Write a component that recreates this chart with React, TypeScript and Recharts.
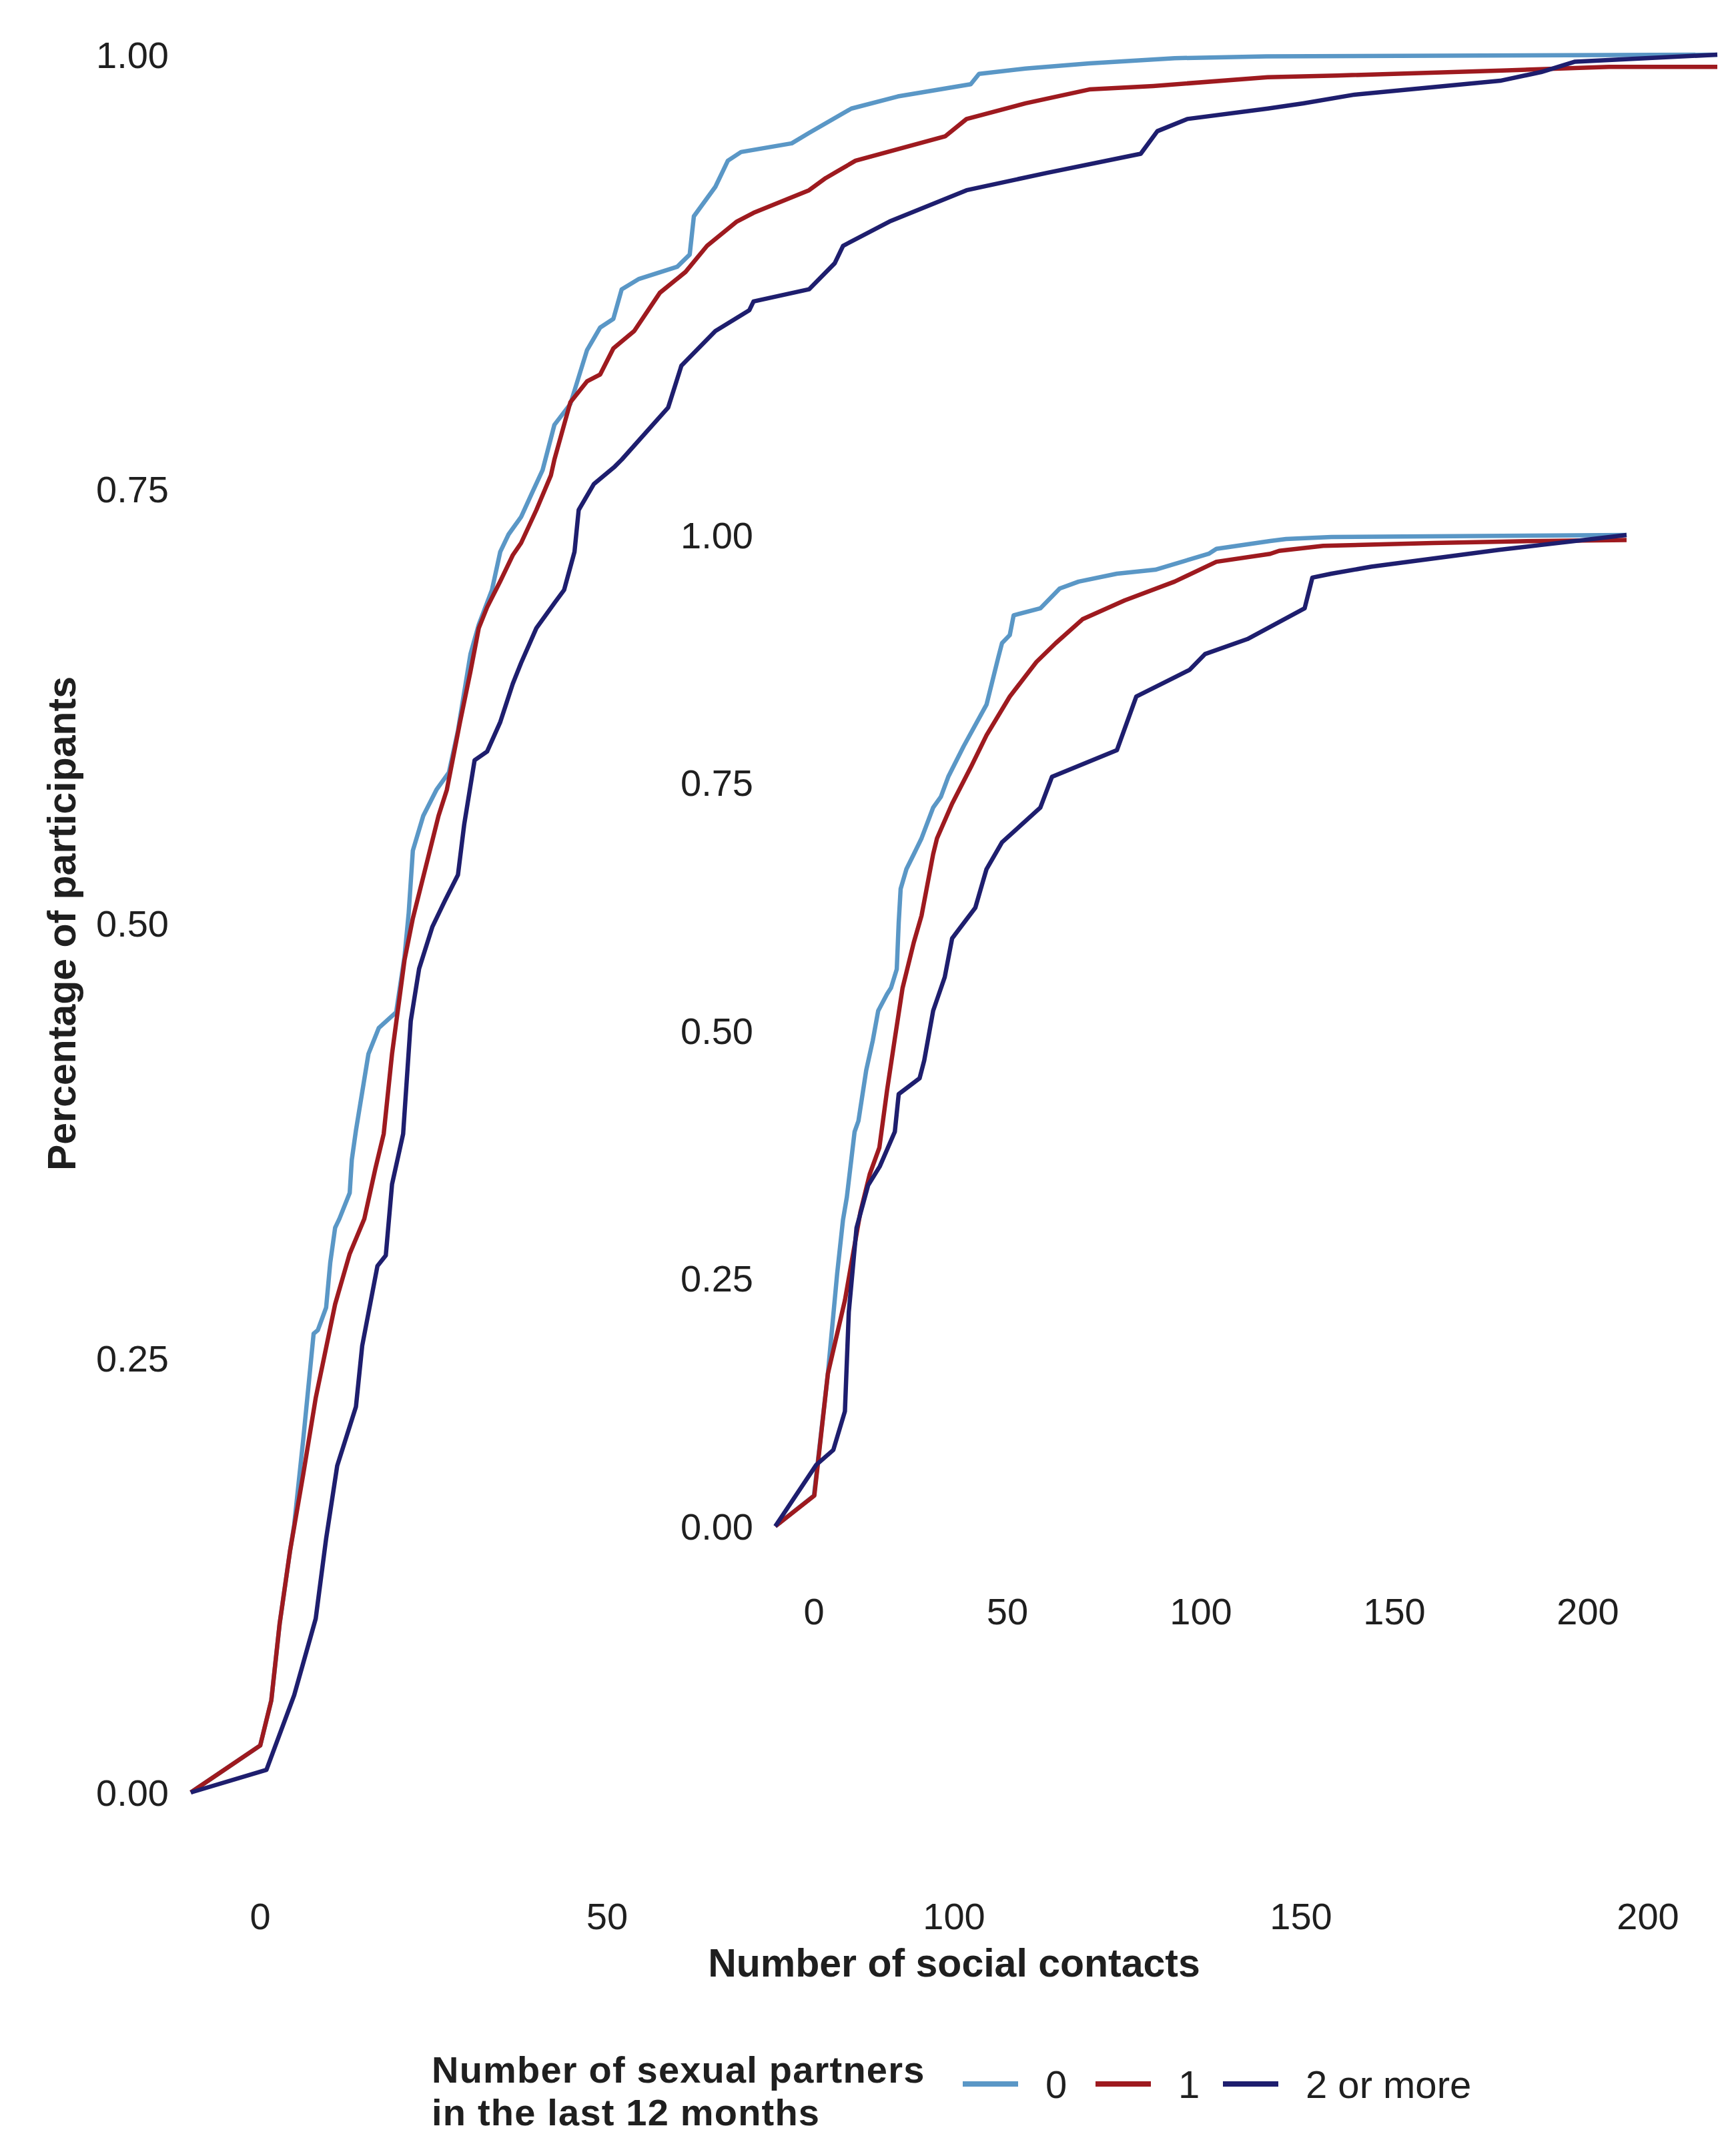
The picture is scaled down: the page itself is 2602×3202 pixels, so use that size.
import { LineChart, Line, XAxis, YAxis } from "recharts"

const FONT = '"Liberation Sans", Arial, Helvetica, sans-serif'
const INK = "#1f1f1f"

// groups: number of sexual partners in the last 12 months
const groups = ["0", "1", "2 or more"]
const colors = ["#5a97c6", "#9e1a1f", "#1e1e6e"]

const xTicks = [0, 50, 100, 150, 200]
const yTicks = [0, 0.25, 0.5, 0.75, 1]

// main panel, [contacts, cumulative share]
const mainNone: [number, number][] = [
  [-10, 0], [0, 0.027], [1.6, 0.053], [2.8, 0.097], [4.3, 0.139], [4.9, 0.154], [6.2, 0.203],
  [7.7, 0.264], [8.3, 0.266], [9.5, 0.279], [10.1, 0.305], [10.8, 0.325], [11.4, 0.33],
  [12.9, 0.345], [13.2, 0.364], [13.8, 0.381], [15.6, 0.425], [17.1, 0.44], [19.6, 0.449],
  [20.8, 0.481], [21.4, 0.506], [22, 0.542], [23.5, 0.562], [25.4, 0.577], [27.2, 0.587],
  [28.5, 0.611], [30.3, 0.655], [31.5, 0.672], [33.4, 0.692], [34.6, 0.714], [35.8, 0.724],
  [37.6, 0.734], [39.2, 0.748], [40.7, 0.761], [42.4, 0.787], [44.7, 0.799], [47.1, 0.83],
  [49, 0.843], [50.9, 0.848], [52.1, 0.865], [54.6, 0.871], [60.1, 0.878], [61.9, 0.885],
  [62.5, 0.907], [65.6, 0.924], [67.4, 0.939], [69.3, 0.944], [76.6, 0.949], [79.1, 0.955],
  [85.2, 0.969], [91.9, 0.976], [102.4, 0.983], [103.6, 0.989], [110.3, 0.992], [119.5, 0.995],
  [131.8, 0.998], [145, 0.999], [210, 1.0],
]

const mainOne: [number, number][] = [
  [-10, 0], [0, 0.027], [1.6, 0.053], [2.8, 0.097], [4.3, 0.139], [6.2, 0.183], [8, 0.227],
  [10.8, 0.281], [12.9, 0.31], [15, 0.33], [16.6, 0.359], [17.8, 0.379], [19, 0.425],
  [20.8, 0.479], [22, 0.503], [24.2, 0.538], [25.7, 0.562], [26.9, 0.577], [28.8, 0.616],
  [30.3, 0.645], [31.5, 0.67], [32.7, 0.682], [34.6, 0.697], [36.4, 0.712], [37.6, 0.719],
  [39.8, 0.738], [41.9, 0.758], [42.4, 0.767], [44.7, 0.8], [47.1, 0.812], [49, 0.816],
  [50.9, 0.831], [53.9, 0.841], [57.6, 0.863], [61.3, 0.875], [64.4, 0.89], [68.7, 0.904],
  [71.1, 0.909], [79.1, 0.922], [81.5, 0.929], [85.8, 0.939], [98.7, 0.953], [101.8, 0.963],
  [110.3, 0.972], [119.5, 0.98], [128.7, 0.982], [145.2, 0.987], [155.2, 0.988],
  [179.7, 0.991], [194.4, 0.993], [210, 0.993],
]

const mainTwoPlus: [number, number][] = [
  [-10, 0], [0.9, 0.013], [4.9, 0.056], [8, 0.1], [9.5, 0.146], [11.1, 0.188], [13.8, 0.222],
  [14.7, 0.257], [16.9, 0.303], [18.1, 0.309], [19, 0.35], [20.6, 0.379], [21.7, 0.444],
  [22.9, 0.474], [24.8, 0.498], [26.6, 0.513], [28.5, 0.528], [29.4, 0.557], [30.9, 0.594],
  [32.7, 0.599], [34.6, 0.616], [36.4, 0.638], [37.6, 0.65], [39.8, 0.67], [42.5, 0.685],
  [43.8, 0.692], [45.3, 0.714], [45.9, 0.738], [48.1, 0.753], [51.1, 0.763], [52.1, 0.767],
  [58.8, 0.797], [60.7, 0.821], [65.6, 0.841], [70.5, 0.853], [71.1, 0.858], [79.1, 0.865],
  [82.8, 0.88], [84, 0.89], [90.7, 0.904], [101.8, 0.922], [113.4, 0.932], [126.9, 0.943],
  [129.3, 0.956], [133.6, 0.963], [145.2, 0.969], [150.3, 0.972], [157.7, 0.977],
  [178.7, 0.985], [184.6, 0.99], [189.5, 0.996], [210, 1.0],
]

// inset panel
const insetNone: [number, number][] = [
  [-10, 0], [0, 0.031], [3.6, 0.154], [6, 0.255], [7.5, 0.309], [8.5, 0.332], [10.5, 0.398],
  [11.5, 0.409], [13.5, 0.46], [15.2, 0.49], [16.6, 0.52], [18.9, 0.537], [19.9, 0.543],
  [21.4, 0.562], [21.9, 0.609], [22.4, 0.643], [23.9, 0.663], [25.8, 0.678], [27.8, 0.694],
  [30.8, 0.725], [32.8, 0.736], [34.7, 0.756], [38.7, 0.787], [44.6, 0.829], [47.6, 0.876],
  [48.6, 0.891], [50.6, 0.899], [51.6, 0.919], [58.5, 0.926], [63.5, 0.946], [68.4, 0.953],
  [78.3, 0.961], [88.2, 0.965], [102, 0.981], [104, 0.986], [117.9, 0.994], [122, 0.996],
  [133.7, 0.998], [210, 1.0],
]

const insetOne: [number, number][] = [
  [-10, 0], [0.1, 0.031], [3.6, 0.154], [8, 0.228], [12, 0.317], [14.4, 0.355], [16.9, 0.382],
  [18.9, 0.44], [20.9, 0.492], [22.9, 0.543], [25.8, 0.589], [27.8, 0.616], [30.8, 0.678],
  [31.8, 0.694], [35.7, 0.729], [40.7, 0.767], [44.6, 0.798], [50.6, 0.837], [57.5, 0.872],
  [62.5, 0.891], [69.4, 0.915], [80.3, 0.934], [93.2, 0.953], [104, 0.973], [117.9, 0.981],
  [120.2, 0.984], [131.6, 0.989], [160, 0.992], [187.9, 0.994], [210, 0.995],
]

const insetTwoPlus: [number, number][] = [
  [-10, 0], [0.6, 0.062], [5, 0.077], [8, 0.116], [9, 0.216], [11, 0.301], [14, 0.344],
  [17, 0.363], [20.9, 0.398], [21.9, 0.436], [27.3, 0.452], [28.5, 0.47], [30.8, 0.52],
  [33.8, 0.554], [35.7, 0.593], [41.7, 0.624], [43.7, 0.651], [44.6, 0.663], [48.6, 0.69],
  [58.5, 0.725], [61.5, 0.756], [78.3, 0.783], [83.3, 0.837], [97.1, 0.864], [101.1, 0.88],
  [112, 0.895], [126.8, 0.926], [128.8, 0.957], [133.7, 0.961], [144, 0.968], [177, 0.985],
  [188, 0.99], [210, 1.0],
]

const toPoints = (pts: [number, number][]) => pts.map(([x, y]) => ({ x, y }))

const mainSeries = [mainNone, mainOne, mainTwoPlus].map(toPoints)
const insetSeries = [insetNone, insetOne, insetTwoPlus].map(toPoints)

const tickStyle = { fill: INK, fontSize: 56, fontFamily: FONT }
const titleStyle = { fill: INK, fontSize: 59, fontWeight: 700, fontFamily: FONT }
const fmt = (v: number) => v.toFixed(2)

function Panel({
  series,
  width,
  height,
  margin,
  yWidth,
  xHeight,
  xMargin,
  titles,
}: {
  series: { x: number; y: number }[][]
  width: number
  height: number
  margin: { top: number; right: number; bottom: number; left: number }
  yWidth: number
  xHeight: number
  xMargin: number
  titles?: boolean
}) {
  return (
    <LineChart width={width} height={height} margin={margin}>
      <XAxis
        type="number"
        dataKey="x"
        domain={[-10, 210]}
        ticks={xTicks}
        height={xHeight}
        axisLine={false}
        tickLine={false}
        tickSize={0}
        tickMargin={xMargin}
        tick={tickStyle}
        label={
          titles
            ? { value: "Number of social contacts", position: "insideTop", offset: 234, ...titleStyle }
            : undefined
        }
      />
      <YAxis
        type="number"
        domain={[0, 1]}
        ticks={yTicks}
        width={yWidth}
        axisLine={false}
        tickLine={false}
        tickSize={0}
        tickMargin={33}
        tickFormatter={fmt}
        tick={tickStyle}
        label={
          titles
            ? {
                value: "Percentage of participants",
                angle: -90,
                position: "insideLeft",
                offset: 92,
                ...titleStyle,
                style: { textAnchor: "middle" },
              }
            : undefined
        }
      />
      {series.map((s, i) => (
        <Line
          key={groups[i]}
          data={s}
          dataKey="y"
          type="linear"
          stroke={colors[i]}
          strokeWidth={6.5}
          strokeLinejoin="round"
          dot={false}
          activeDot={false}
          isAnimationActive={false}
        />
      ))}
    </LineChart>
  )
}

const legendKeyX = [1443, 1642, 1833]

export default function App() {
  return (
    <div
      style={{
        position: "absolute",
        left: 0,
        top: 0,
        width: 2602,
        height: 3202,
        background: "#fff",
        fontFamily: FONT,
        overflow: "hidden",
      }}
    >
      <div style={{ position: "absolute", left: 0, top: 0 }}>
        <Panel
          series={mainSeries}
          width={2602}
          height={3202}
          margin={{ top: 82, right: 28, bottom: 0, left: 0 }}
          yWidth={286}
          xHeight={515}
          xMargin={165}
          titles
        />
      </div>
      <div style={{ position: "absolute", left: 900, top: 740 }}>
        <Panel
          series={insetSeries}
          width={1560}
          height={1800}
          margin={{ top: 62, right: 22, bottom: 0, left: 0 }}
          yWidth={262}
          xHeight={252}
          xMargin={107}
        />
      </div>
      <svg
        width={2602}
        height={202}
        style={{ position: "absolute", left: 0, top: 3000 }}
      >
        <text x={647} y={122} {...titleStyle} fontSize={56} letterSpacing={1.2}>
          Number of sexual partners
        </text>
        <text x={647} y={186} {...titleStyle} fontSize={56} letterSpacing={1.2}>
          in the last 12 months
        </text>
        {groups.map((g, i) => (
          <g key={g}>
            <line
              x1={legendKeyX[i]}
              x2={legendKeyX[i] + 83}
              y1={124}
              y2={124}
              stroke={colors[i]}
              strokeWidth={8}
            />
            <text x={legendKeyX[i] + 124} y={145} fill={INK} fontSize={58} fontFamily={FONT}>
              {g}
            </text>
          </g>
        ))}
      </svg>
    </div>
  )
}
